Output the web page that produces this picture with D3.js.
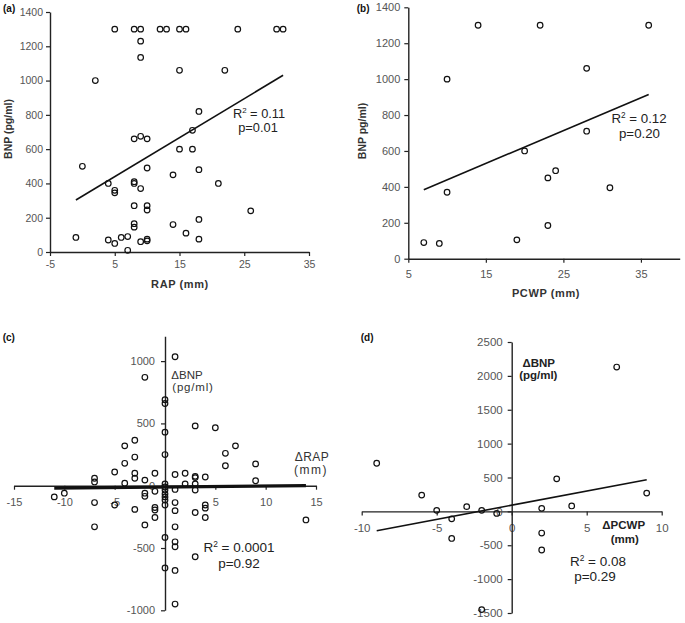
<!DOCTYPE html>
<html>
<head>
<meta charset="utf-8">
<script src="https://cdn.jsdelivr.net/npm/d3@7"></script>
<style>
  html, body { margin: 0; padding: 0; background: #fff; }
  svg { display: block; font-family: "Liberation Sans", Arial, sans-serif; }
</style>
</head>
<body>
<svg id="chart" width="685" height="623"></svg>
<script>
// ---------- Panel (a): BNP vs RAP ----------
const rapA = [5, 8, 9, 12, 13, 15, 16, 24, 30, 31,
  9, 9, 2, 15, 22, 18, 17, 8, 9, 10, 15, 17, 0, 10, 18, 14, 4, 21, 8, 8, 5, 5, 9,
  8, 10, 10, 26, 18, 14, 8, 8, 16, -1, 4, 6, 7, 5, 7, 9, 10, 10, 18];
const bnpA = [1300, 1300, 1300, 1300, 1300, 1300, 1300, 1300, 1300, 1300,
  1230, 1135, 1000, 1060, 1060, 820, 710, 660, 675, 660, 600, 600, 500, 490, 480, 450, 400, 400, 410, 400, 360, 345, 370,
  270, 270, 245, 240, 190, 160, 165, 145, 110, 85, 70, 85, 90, 50, 10, 60, 75, 65, 75];
const fitAx = [-1, 31];
const fitAy = [303, 1031];
const ticksAx = [-5, 5, 15, 25, 35];
const ticksAy = [0, 200, 400, 600, 800, 1000, 1200, 1400];

// ---------- Panel (b): BNP vs PCWP ----------
const pcwpB = [14, 22, 36, 10, 28, 28, 20, 24, 23, 31, 10, 23, 19, 7, 9];
const bnpB = [1300, 1300, 1300, 1000, 1060, 710, 600, 490, 450, 395, 370, 185, 105, 90, 85];
const fitBx = [7, 36];
const fitBy = [384, 915];
const ticksBx = [5, 15, 25, 35];
const ticksBy = [0, 200, 400, 600, 800, 1000, 1200, 1400];

// ---------- Panel (c): ΔBNP vs ΔRAP ----------
const dRapC = [-11, -10,
  -7, -7, -7, -7,
  -5, -5,
  -4, -4, -4,
  -3, -3, -3, -3, -3,
  -2, -2, -2, -2, -2,
  -1, -1, -1, -1, -1,
  0, 0, 0, 0, 0, 0, 0, 0, 0, 0, 0, 0, 0,
  1, 1, 1, 1, 1, 1, 1, 1, 1, 1,
  2, 2,
  3, 3, 3, 3, 3, 3, 3,
  4, 4, 4, 4,
  5, 6, 6, 7, 9, 9, 14];
const dBnpC = [-90, -60,
  60, 30, -135, -330,
  110, -155,
  320, 180, 20,
  365, 230, 100, 60, -190,
  870, 45, -60, -85, -315,
  100, -45, -175, -195, -255,
  690, 660, 430, 250, 15, -10, -35, -65, -90, -115, -155, -415, -660,
  1035, 90, -30, -135, -200, -330, -450, -490, -680, -950,
  100, 15,
  480, 75, 65, 15, -35, -215, -570,
  70, -155, -180, -255,
  465, 260, 160, 320, 175, 40, -275];
const fitCx = [-11, 14];
const fitCy = [-20, 0];
const ticksCx = [-15, -10, -5, 5, 10, 15];
const ticksCy = [-1000, -500, 0, 500, 1000];

// ---------- Panel (d): ΔBNP vs ΔPCWP ----------
const dPcwpD = [7, -9, 3, -6, 9, -3, 4, 2, -5, -2, -1, -4, -4, 2, 2, -2];
const dBnpD = [2130, 710, 480, 240, 270, 70, 80, 45, 15, 15, -30, -110, -400, -320, -570, -1450];
const fitDx = [-9, 9];
const fitDy = [-285, 467];
const ticksDx = [-10, -5, 0, 5, 10];
const ticksDy = [-1500, -1000, -500, 0, 500, 1000, 1500, 2000, 2500];

const svg = d3.select("#chart");
const TICK_COLOR = "#555";
const AXIS_COLOR = "#222";
const fmt = d => String(d);

function styleAxis(g, fs) {
  g.select(".domain").attr("stroke", AXIS_COLOR).attr("stroke-width", 1.4);
  g.selectAll(".tick line").attr("stroke", AXIS_COLOR).attr("stroke-width", 1.2);
  g.selectAll(".tick text").attr("fill", TICK_COLOR).attr("font-size", fs)
    .attr("font-family", "'Liberation Sans', Arial, sans-serif");
}

function points(g, xs, ys, x, y) {
  g.selectAll("circle.pt").data(xs.map((d, i) => [d, ys[i]])).join("circle")
    .attr("class", "pt")
    .attr("cx", d => x(d[0])).attr("cy", d => y(d[1])).attr("r", 2.8)
    .attr("fill", "none").attr("stroke", "#111").attr("stroke-width", 1.2);
}

function fitLine(g, fx, fy, x, y, w) {
  g.append("line")
    .attr("x1", x(fx[0])).attr("y1", y(fy[0]))
    .attr("x2", x(fx[1])).attr("y2", y(fy[1]))
    .attr("stroke", "#111").attr("stroke-width", w);
}

function label(g, txt, x, yb, opts = {}) {
  const t = g.append("text").attr("x", x).attr("y", yb)
    .attr("text-anchor", opts.anchor || "middle")
    .attr("font-size", opts.fs || 11)
    .attr("font-weight", opts.bold ? "bold" : "normal")
    .attr("fill", opts.fill || "#222");
  if (opts.ls) t.attr("letter-spacing", opts.ls);
  t.text(txt);
  return t;
}

function r2(g, val, x, yb, fs) {
  const t = g.append("text").attr("x", x).attr("y", yb).attr("text-anchor", "middle")
    .attr("font-size", fs).attr("fill", "#222");
  t.append("tspan").text("R");
  t.append("tspan").attr("dy", -5).attr("font-size", fs * 0.62).text("2");
  t.append("tspan").attr("dy", 5).text(" = " + val);
}

// ---------- draw (a) ----------
{
  const g = svg.append("g");
  const x = d3.scaleLinear().domain([-5, 35]).range([50, 309]);
  const y = d3.scaleLinear().domain([0, 1400]).range([252, 12]);
  g.append("g").attr("transform", `translate(0,${y(0)})`)
    .call(d3.axisBottom(x).tickValues(ticksAx).tickFormat(fmt).tickSize(4).tickPadding(5).tickSizeOuter(0))
    .call(a => styleAxis(a, 10.5));
  g.append("g").attr("transform", `translate(${x(-5)},0)`)
    .call(d3.axisLeft(y).tickValues(ticksAy).tickFormat(fmt).tickSize(4).tickPadding(3).tickSizeOuter(0))
    .call(a => styleAxis(a, 10.5));
  fitLine(g, fitAx, fitAy, x, y, 1.6);
  points(g, rapA, bnpA, x, y);
  r2(g, "0.11", 259, 117.5, 12.8);
  label(g, "p=0.01", 258, 131.5, { fs: 12.8 });
  label(g, "RAP (mm)", 180, 287.5, { bold: true, fs: 11, fill: "#333", ls: 0.6 });
  label(g, "BNP (pg/ml)", 0, 0, { bold: true, fs: 10.5, fill: "#333" })
    .attr("transform", "translate(11.5,129) rotate(-90)");
  label(g, "(a)", 3, 11.5, { bold: true, fs: 10, anchor: "start", fill: "#111" });
}

// ---------- draw (b) ----------
{
  const g = svg.append("g");
  const x = d3.scaleLinear().domain([5, 40]).range([408.3, 679.7]);
  const y = d3.scaleLinear().domain([0, 1400]).range([258.7, 7.3]);
  g.append("g").attr("transform", `translate(0,${y(0)})`)
    .call(d3.axisBottom(x).tickValues(ticksBx).tickFormat(fmt).tickSize(4).tickPadding(8).tickSizeOuter(0))
    .call(a => styleAxis(a, 11));
  g.append("g").attr("transform", `translate(${x(5)},0)`)
    .call(d3.axisLeft(y).tickValues(ticksBy).tickFormat(fmt).tickSize(4).tickPadding(4).tickSizeOuter(0))
    .call(a => styleAxis(a, 11));
  fitLine(g, fitBx, fitBy, x, y, 1.6);
  points(g, pcwpB, bnpB, x, y);
  r2(g, "0.12", 639, 123, 13.3);
  label(g, "p=0.20", 639.5, 138.3, { fs: 13.3 });
  label(g, "PCWP (mm)", 546, 297, { bold: true, fs: 11, fill: "#333", ls: 0.6 });
  label(g, "BNP pg/ml)", 0, 0, { bold: true, fs: 10.5, fill: "#333" })
    .attr("transform", "translate(366,131) rotate(-90)");
  label(g, "(b)", 356.7, 11.5, { bold: true, fs: 10, anchor: "start", fill: "#111" });
}

// ---------- draw (c) ----------
{
  const g = svg.append("g");
  const x = d3.scaleLinear().domain([-15, 15]).range([14, 316]);
  const y = d3.scaleLinear().domain([-1000, 1200]).range([610.3, 336.2]);
  g.append("g").attr("transform", `translate(0,${y(0)})`)
    .call(d3.axisBottom(x).tickValues(ticksCx).tickFormat(fmt).tickSize(4).tickPadding(8).tickSizeOuter(0))
    .call(a => styleAxis(a, 11));
  g.append("g").attr("transform", `translate(${x(0)},0)`)
    .call(d3.axisLeft(y).tickValues(ticksCy).tickFormat(fmt).tickSize(4).tickPadding(6).tickSizeOuter(0))
    .call(a => styleAxis(a, 11));
  fitLine(g, fitCx, fitCy, x, y, 3.2);
  points(g, dRapC, dBnpC, x, y);
  r2(g, "0.0001", 239, 552, 13.5);
  label(g, "p=0.92", 239, 568.3, { fs: 13.5 });
  label(g, "\u0394BNP", 187, 379, { fs: 11.5, fill: "#333" });
  label(g, "(pg/ml)", 193, 390.5, { fs: 11.5, fill: "#333", ls: 0.8 });
  label(g, "\u0394RAP", 312, 460.7, { fs: 12, fill: "#333", ls: 0.5 });
  label(g, "(mm)", 311, 474, { fs: 12, fill: "#333", ls: 1.5 });
  label(g, "(c)", 2.7, 341, { bold: true, fs: 10, anchor: "start", fill: "#111" });
}

// ---------- draw (d) ----------
{
  const g = svg.append("g");
  const x = d3.scaleLinear().domain([-10, 10]).range([361.7, 661.7]);
  const y = d3.scaleLinear().domain([-1500, 2500]).range([613, 342]);
  g.append("g").attr("transform", `translate(0,${y(0)})`)
    .call(d3.axisBottom(x).tickValues(ticksDx).tickFormat(fmt).tickSize(4).tickPadding(8).tickSizeOuter(0))
    .call(a => styleAxis(a, 11.5));
  g.append("g").attr("transform", `translate(${x(0)},0)`)
    .call(d3.axisLeft(y).tickValues(ticksDy).tickFormat(fmt).tickSize(4).tickPadding(5).tickSizeOuter(0))
    .call(a => styleAxis(a, 11.5));
  fitLine(g, fitDx, fitDy, x, y, 1.6);
  points(g, dPcwpD, dBnpD, x, y);
  r2(g, "0.08", 598, 566, 13.5);
  label(g, "p=0.29", 595, 581, { fs: 13.5 });
  label(g, "\u0394BNP", 538.7, 367, { bold: true, fs: 11.5, fill: "#222" });
  label(g, "(pg/ml)", 538.3, 379, { bold: true, fs: 11.5, fill: "#222" });
  label(g, "\u0394PCWP", 623.7, 529, { bold: true, fs: 11.5, fill: "#222" });
  label(g, "(mm)", 624.7, 543, { bold: true, fs: 11.5, fill: "#222" });
  label(g, "(d)", 360.7, 341, { bold: true, fs: 10, anchor: "start", fill: "#111" });
}
</script>
</body>
</html>
